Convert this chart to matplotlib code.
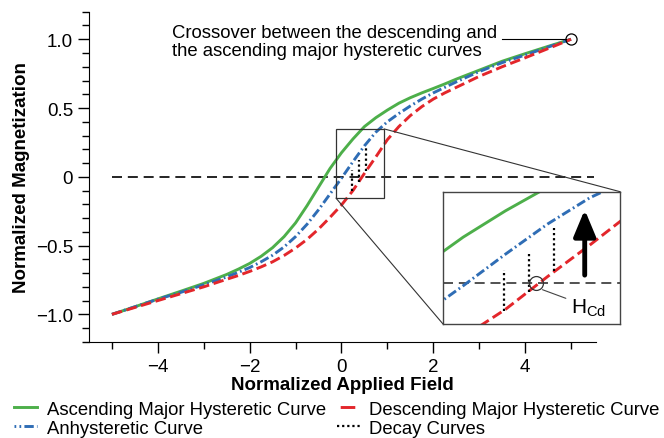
import numpy as np
import matplotlib.pyplot as plt
from matplotlib.patches import Rectangle, ConnectionPatch
from matplotlib.lines import Line2D

plt.rcParams['font.family'] = ['Liberation Sans', 'DejaVu Sans']
plt.rcParams['font.size'] = 13.3

# data
field = [-5, -4.5, -4, -3.5, -3, -2.5, -2.25, -2, -1.75, -1.5, -1.25, -1, -0.75, -0.5, -0.25,
         0, 0.25, 0.5, 0.75, 1, 1.25, 1.5, 1.75, 2, 2.25, 2.5, 3, 3.5, 4, 4.5, 5]
ascending = [-1.0, -0.945, -0.888, -0.832, -0.775, -0.71, -0.672, -0.63, -0.578, -0.515,
             -0.435, -0.335, -0.21, -0.075, 0.06, 0.175, 0.275, 0.365, 0.43, 0.485,
             0.535, 0.575, 0.61, 0.642, 0.675, 0.71, 0.775, 0.84, 0.895, 0.948, 1.0]
anhysteretic = [-1.0, -0.945, -0.89, -0.84, -0.785, -0.728, -0.695, -0.66, -0.618, -0.57,
                -0.51, -0.435, -0.345, -0.24, -0.125, -0.01, 0.11, 0.225, 0.325, 0.40,
                0.46, 0.515, 0.565, 0.61, 0.65, 0.69, 0.765, 0.83, 0.885, 0.943, 1.0]
descending = [-1.0, -0.95, -0.90, -0.85, -0.80, -0.745, -0.718, -0.688, -0.655, -0.618,
              -0.572, -0.518, -0.455, -0.38, -0.295, -0.205, -0.10, 0.025, 0.145, 0.27,
              0.365, 0.445, 0.51, 0.565, 0.61, 0.65, 0.73, 0.80, 0.865, 0.932, 1.0]

decay_x = [0.24, 0.39, 0.54]
decay_lo = [-0.105, -0.035, 0.045]
decay_hi = [0.05, 0.12, 0.21]

zoom_x = (-0.12, 0.93)
zoom_y = (-0.155, 0.348)
crossover = (5, 1.0)
hcd = (0.43, 0.0)

green = '#4daf4a'
blue = '#2f6db5'
red = '#e3262b'
LW = 2.1


def draw_curves(a, lw=LW):
    a.plot(field, ascending, color=green, lw=lw, solid_capstyle='butt')
    a.plot(field, anhysteretic, color=blue, lw=lw, dashes=(3.2, 1.1, 0.6, 1.1))
    a.plot(field, descending, color=red, lw=lw, dashes=(3.6, 1.6))
    for i in range(len(decay_x)):
        a.plot([decay_x[i], decay_x[i]], [decay_lo[i], decay_hi[i]], color='black',
               lw=1.6, ls=(0, (1, 1.3)))


fig = plt.figure(figsize=(6.64, 4.39), dpi=100)
ax = fig.add_axes([0.134, 0.219, 0.764, 0.752])

ax.plot([-5, 5.5], [0, 0], color='black', lw=1.2, dashes=(6, 3.5), zorder=1)
draw_curves(ax)

ax.set_xlim(-5.5, 5.55)
ax.set_ylim(-1.2, 1.2)
ax.spines['top'].set_visible(False)
ax.spines['right'].set_visible(False)
ax.set_xticks([-4, -2, 0, 2, 4])
ax.set_xticklabels(['\u22124', '\u22122', '0', '2', '4'])
ax.set_xticks([-5, -3, -1, 1, 3, 5], minor=True)
ax.set_yticks([-1.0, -0.5, 0, 0.5, 1.0])
ax.set_yticklabels(['\u22121.0', '\u22120.5', '0', '0.5', '1.0'])
ax.set_yticks(np.arange(-12, 13) / 10, minor=True)
ax.tick_params(which='major', length=8, width=1, labelsize=13.5)
ax.tick_params(which='minor', length=5, width=1)
ax.set_xlabel('Normalized Applied Field', fontweight='bold', fontsize=13.5, labelpad=1)
ax.set_ylabel('Normalized Magnetization', fontweight='bold', fontsize=13.5, labelpad=4)

# crossover annotation
ax.plot(*crossover, 'o', ms=8, mfc='none', mec='black', mew=0.9)
ax.plot([3.5, 4.88], [1.0, 1.0], color='black', lw=0.8)
ax.text(-3.7, 0.985, 'Crossover between the descending and\nthe ascending major hysteretic curves',
        ha='left', va='center', fontsize=13.3, linespacing=1.1)

# zoom rectangle
ax.add_patch(Rectangle((zoom_x[0], zoom_y[0]), zoom_x[1] - zoom_x[0], zoom_y[1] - zoom_y[0],
                       fill=False, ec='#333333', lw=0.9, zorder=5))

# inset
axin = fig.add_axes([0.667, 0.26, 0.267, 0.301])
axin.plot(zoom_x, [0, 0], color='#333333', lw=1.2, dashes=(6, 3.5))
draw_curves(axin)
axin.set_xlim(*zoom_x)
axin.set_ylim(*zoom_y)
axin.set_xticks([])
axin.set_yticks([])
for s in axin.spines.values():
    s.set_color('#444444')
    s.set_linewidth(1.0)
axin.annotate('', xy=(0.72, 0.29), xytext=(0.72, 0.02),
              arrowprops=dict(arrowstyle='-|>,head_width=0.5,head_length=1.2',
                              color='black', lw=3.5))
axin.plot(*hcd, 'o', ms=10, mfc='none', mec='#333333', mew=0.9, zorder=6)
axin.annotate(r'H$_{\mathregular{Cd}}$', xy=(0.47, -0.025), xytext=(0.64, -0.09),
              fontsize=15, va='center', ha='left',
              arrowprops=dict(arrowstyle='-', color='#444444', lw=0.8,
                              shrinkA=2, shrinkB=0))

for (xa, ya), (xb, yb) in [((zoom_x[1], zoom_y[1]), (1, 1)), ((zoom_x[0], zoom_y[0]), (0, 0))]:
    con = ConnectionPatch(xyA=(xa, ya), coordsA=ax.transData,
                          xyB=(xb, yb), coordsB=axin.transAxes,
                          color='#333333', lw=0.8)
    fig.add_artist(con)

# legend (column-first: asc, anh | desc, decay)
handles = [
    Line2D([], [], color=green, lw=LW),
    Line2D([], [], color=blue, lw=LW, ls=(2.6, (3.2, 1.1, 0.6, 1.1))),
    Line2D([], [], color=red, lw=LW, ls=(6.3, (5.0, 2.4))),
    Line2D([], [], color='black', lw=1.6, ls=(0, (1, 1.3))),
]
labels = ['Ascending Major Hysteretic Curve', 'Anhysteretic Curve',
          'Descending Major Hysteretic Curve', 'Decay Curves']
fig.legend(handles, labels, ncol=2, frameon=False,
           loc='lower left', bbox_to_anchor=(0.005, -0.022), fontsize=13.3,
           handlelength=1.25, handletextpad=0.5, columnspacing=0.6,
           labelspacing=0.1, borderaxespad=0.2)

fig.savefig('out.png', dpi=100)
